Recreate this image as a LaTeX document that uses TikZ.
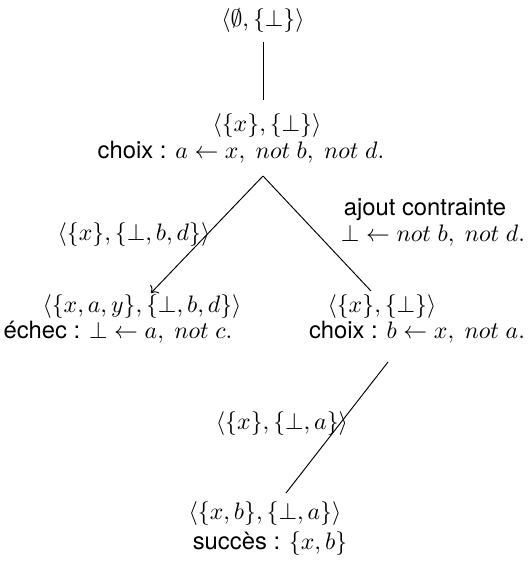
\documentclass[tikz,border=0pt]{standalone}
\usepackage{fontspec}
\setsansfont{TeX Gyre Heros}
\usetikzlibrary{arrows.meta}

\begin{document}
\begin{tikzpicture}[>={To},x=0.42pt,y=-0.42pt,
  etat/.style={inner sep=0pt,font=\sffamily}]
  \useasboundingbox (0,0) rectangle (528,561);
  % Extrémités des arcs
  \coordinate (R0) at (263,42);
  \coordinate (R1) at (263,100);
  \coordinate (S) at (263,176);
  \coordinate (G) at (151,293);
  \coordinate (D) at (371,291);
  \coordinate (D0) at (388,362);
  \coordinate (F) at (286,493);

  % Noeuds de l'arbre
  \node[etat] (racine) at (263,21) {$\langle\emptyset,\{\bot\}\rangle$};
  \node[etat] (n1) at (267,126) {$\langle\{x\},\{\bot\}\rangle$};
  \node[etat] (n1c) at (241,152) {choix : $a\leftarrow x,\ not\ b,\ not\ d.$};
  \node[etat] (g1) at (142,307) {$\langle\{x,a,y\},\{\bot,b,d\}\rangle$};
  \node[etat] (g1c) at (118,332) {échec : $\bot\leftarrow a,\ not\ c.$};
  \node[etat] (d1) at (382,307) {$\langle\{x\},\{\bot\}\rangle$};
  \node[etat] (d1c) at (417,332) {choix : $b\leftarrow x,\ not\ a.$};
  \node[etat] (f1) at (265,514) {$\langle\{x,b\},\{\bot,a\}\rangle$};
  \node[etat] (f1c) at (270,544) {succès : $\{x,b\}$};

  % Etiquettes des arcs
  \node[etat] (lg) at (134,235) {$\langle\{x\},\{\bot,b,d\}\rangle$};
  \node[etat] (ld1) at (425,210) {ajout contrainte};
  \node[etat] (ld2) at (433,236) {$\bot\leftarrow not\ b,\ not\ d.$};
  \node[etat] (lf) at (282,424) {$\langle\{x\},\{\bot,a\}\rangle$};

  % Arcs
  \draw (R0) -- (R1);
  \draw[->] (S) -- (G);
  \draw (S) -- (D);
  \draw (D0) -- (F);
\end{tikzpicture}
\end{document}
